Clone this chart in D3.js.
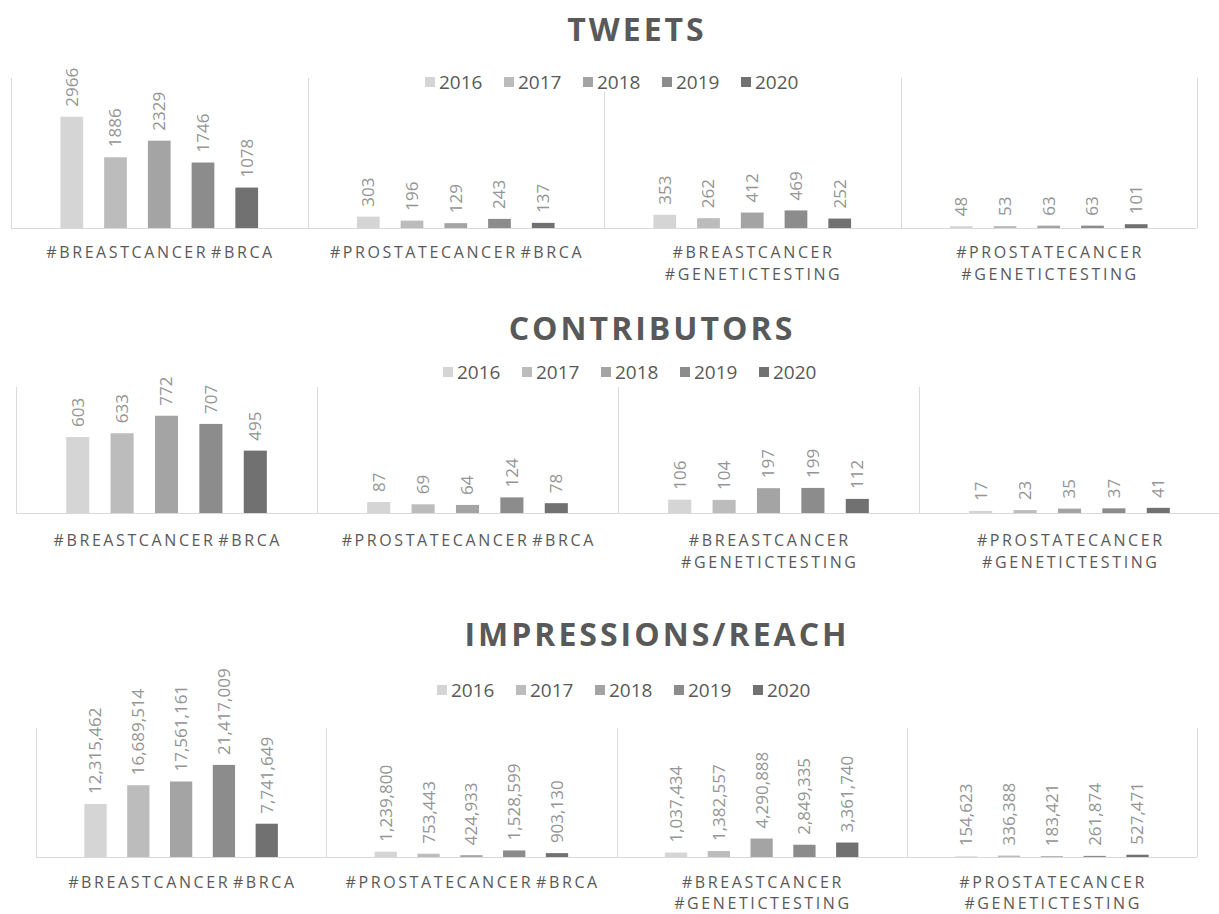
<!DOCTYPE html>
<html lang="en">
<head>
<meta charset="utf-8">
<title>Tweets, contributors and impressions by hashtag</title>
<script src="https://d3js.org/d3.v7.min.js"></script>
<style>
  body { margin: 0; background: #fff; }
  svg { display: block; font-family: 'Open Sans', sans-serif; }
</style>
</head>
<body>
<svg width="1219" height="914"></svg>
<script>
// data
const years = ['2016', '2017', '2018', '2019', '2020'];
const hashtags = [
  ['#BREASTCANCER #BRCA'],
  ['#PROSTATECANCER #BRCA'],
  ['#BREASTCANCER', '#GENETICTESTING'],
  ['#PROSTATECANCER', '#GENETICTESTING']
];
const titles = ['TWEETS', 'CONTRIBUTORS', 'IMPRESSIONS/REACH'];
const tweets = [
  [2966, 1886, 2329, 1746, 1078],
  [303, 196, 129, 243, 137],
  [353, 262, 412, 469, 252],
  [48, 53, 63, 63, 101]
];
const contributors = [
  [603, 633, 772, 707, 495],
  [87, 69, 64, 124, 78],
  [106, 104, 197, 199, 112],
  [17, 23, 35, 37, 41]
];
const impressions = [
  [12315462, 16689514, 17561161, 21417009, 7741649],
  [1239800, 753443, 424933, 1528599, 903130],
  [1037434, 1382557, 4290888, 2849335, 3361740],
  [154623, 336388, 183421, 261874, 527471]
];
const axisMax = [4000, 1000, 30000000];

const colors = ['#d5d5d5', '#bcbcbc', '#a4a4a4', '#8c8c8c', '#717171'];
const textDark = '#595959';
const textLight = '#959595';
const lineColor = '#d9d9d9';

// where each of the three charts sits on the page
const panels = [
  {values: tweets, fmt: d3.format('d'), titleX: 637, titleY: 41, legendX: 425, legendY: 82,
   left: 11, right: 1197, top: 78, base: 228, catY: 252, lineGap: 22},
  {values: contributors, fmt: d3.format('d'), titleX: 652, titleY: 340, legendX: 443, legendY: 372,
   left: 16, right: 1220, top: 387, base: 513, catY: 540, lineGap: 22},
  {values: impressions, fmt: d3.format(','), titleX: 657, titleY: 646, legendX: 437, legendY: 690,
   left: 36, right: 1197, top: 728, base: 857, catY: 882, lineGap: 21}
];

const svg = d3.select('svg');

panels.forEach(function(p, k) {
  var g = svg.append('g');

  var x = d3.scaleBand().domain(d3.range(hashtags.length)).range([p.left, p.right]);
  var xi = d3.scaleBand().domain(years).range([0, x.bandwidth()])
    .paddingInner(0.48).paddingOuter(1.13);
  var y = d3.scaleLinear().domain([0, axisMax[k]]).range([p.base, p.top]);

  // group separators
  g.selectAll('line.sep')
    .data(d3.range(hashtags.length + 1))
    .enter()
    .append('line')
    .attr('x1', function(d) { return Math.round(p.left + d * x.step()) + 0.5; })
    .attr('x2', function(d) { return Math.round(p.left + d * x.step()) + 0.5; })
    .attr('y1', y(axisMax[k]))
    .attr('y2', y(0))
    .style('stroke', lineColor);

  // baseline
  g.append('line')
    .attr('x1', p.left).attr('x2', p.right)
    .attr('y1', Math.round(y(0)) + 0.5).attr('y2', Math.round(y(0)) + 0.5)
    .style('stroke', lineColor);

  // title
  g.append('text')
    .attr('x', p.titleX)
    .attr('y', p.titleY)
    .attr('text-anchor', 'middle')
    .style('font-size', '32px')
    .style('font-weight', 700)
    .style('letter-spacing', '3px')
    .style('fill', textDark)
    .text(titles[k]);

  // legend, white behind it so the separator does not run through
  var leg = g.append('g');
  leg.append('rect')
    .attr('x', p.legendX - 4).attr('y', p.legendY - 10)
    .attr('width', 4 * 79 + 70).attr('height', 20)
    .style('fill', '#fff');
  var item = leg.selectAll('g.item')
    .data(years)
    .enter()
    .append('g')
    .attr('transform', function(d, i) { return 'translate(' + (p.legendX + i * 79) + ',' + p.legendY + ')'; });
  item.append('rect')
    .attr('x', 0).attr('y', -5)
    .attr('width', 10).attr('height', 10)
    .style('fill', function(d, i) { return colors[i]; });
  item.append('text')
    .attr('x', 14)
    .attr('dy', '0.35em')
    .style('font-size', '19px')
    .style('fill', textDark)
    .text(function(d) { return d; });

  // bars and rotated value labels
  var grp = g.selectAll('g.grp')
    .data(p.values)
    .enter()
    .append('g')
    .attr('transform', function(d, i) { return 'translate(' + x(i) + ',0)'; });

  grp.selectAll('rect')
    .data(function(d) { return d; })
    .enter()
    .append('rect')
    .attr('x', function(d, i) { return xi(years[i]); })
    .attr('y', function(d) { return y(d); })
    .attr('width', xi.bandwidth())
    .attr('height', function(d) { return y(0) - y(d); })
    .style('fill', function(d, i) { return colors[i]; });

  grp.selectAll('text')
    .data(function(d) { return d; })
    .enter()
    .append('text')
    .attr('transform', function(d, i) {
      return 'translate(' + (xi(years[i]) + xi.bandwidth() / 2) + ',' + (y(d) - 10) + ') rotate(-90)';
    })
    .attr('dy', '0.35em')
    .style('font-size', '17px')
    .style('fill', textLight)
    .text(function(d) { return p.fmt(d); });

  // category labels, one or two lines
  var cat = g.selectAll('text.cat')
    .data(hashtags)
    .enter()
    .append('text')
    .attr('class', 'cat')
    .attr('text-anchor', 'middle')
    .style('font-size', '16px')
    .style('letter-spacing', '2.6px')
    .style('word-spacing', '-4px')
    .style('fill', textDark);
  cat.selectAll('tspan')
    .data(function(d, i) { return d.map(function(s) { return {s: s, i: i}; }); })
    .enter()
    .append('tspan')
    .attr('x', function(d) { return x(d.i) + x.bandwidth() / 2 + 1.3; })
    .attr('y', function(d, j) { return p.catY + j * p.lineGap; })
    .attr('dy', '0.35em')
    .text(function(d) { return d.s; });
});
</script>
</body>
</html>
